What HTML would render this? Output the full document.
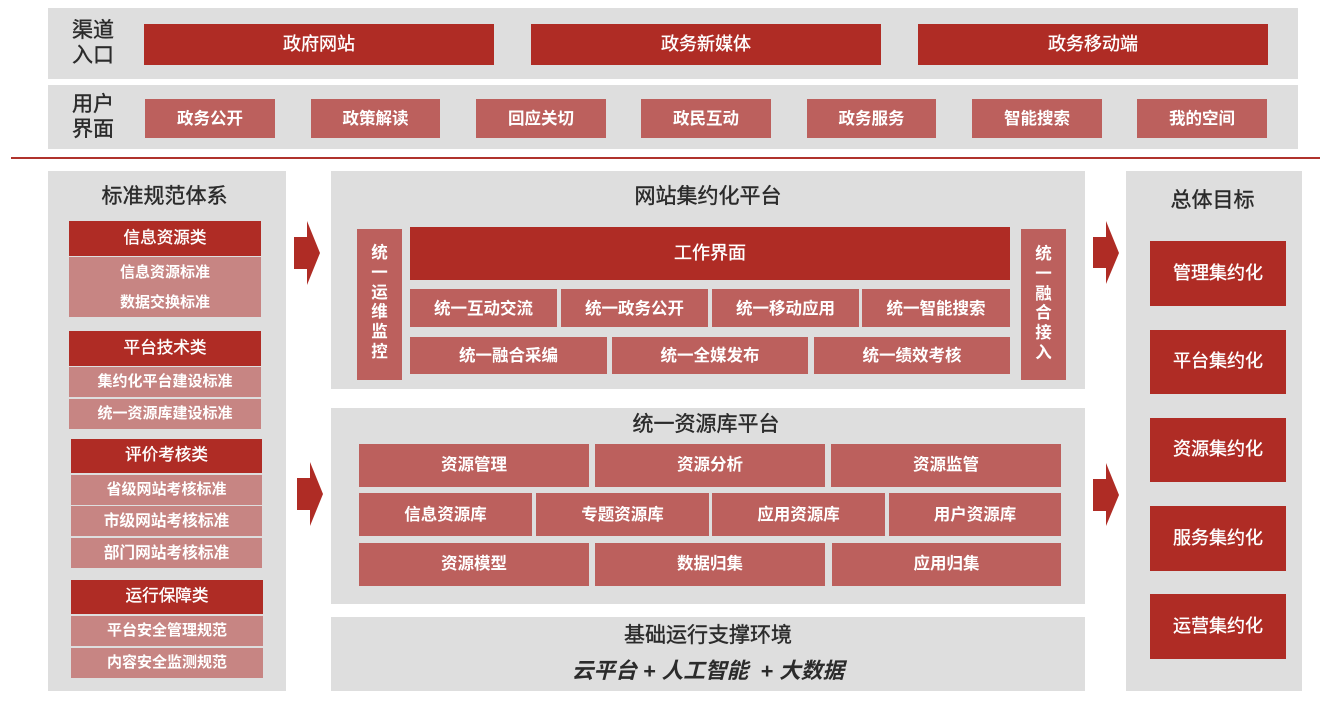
<!DOCTYPE html>
<html lang="zh"><head><meta charset="utf-8"><title>网站集约化平台</title>
<style>
html,body{margin:0;padding:0;background:#fff}
#p{position:relative;width:1332px;height:705px;overflow:hidden;background:#fff;font-family:"Liberation Sans","Noto Sans CJK SC",sans-serif}
#p div{position:absolute;display:flex;align-items:center;justify-content:center;text-align:center;white-space:nowrap;box-sizing:border-box}
.g{background:#dedede}
.r{background:#af2c25;color:#fff;font-size:18px;font-weight:400;padding-bottom:4px;-webkit-text-stroke:.35px #fff}
#p .h{font-size:16.6px;padding-bottom:6px}
.m{background:#bc605d;color:#fff;font-size:16.5px;font-weight:700;padding-bottom:3px}
#p .u{padding-bottom:5px}
.l{background:#c78583;color:#fff;font-size:15px;font-weight:700;padding-bottom:4px}
.b{font-size:15.7px}
.t{color:#2b2b2b;font-weight:400;line-height:25px;-webkit-text-stroke:.4px #2b2b2b}
.v{line-height:19.8px;white-space:normal!important;align-items:flex-start!important}
</style></head><body><div id="p">
<div class="g" style="left:48px;top:8px;width:1250px;height:71px"></div>
<div class="g" style="left:48px;top:85px;width:1250px;height:64px"></div>
<div class="t" style="left:48px;top:17px;width:90px;height:53px;font-size:21px;line-height:24.5px">渠道<br>入口</div>
<div class="t" style="left:48px;top:91px;width:90px;height:52px;font-size:21px">用户<br>界面</div>
<div class="r" style="left:144px;top:24px;width:350px;height:41px">政府网站</div>
<div class="r" style="left:531px;top:24px;width:350px;height:41px">政务新媒体</div>
<div class="r" style="left:918px;top:24px;width:350px;height:41px">政务移动端</div>
<div class="m" style="left:145px;top:99px;width:130px;height:39px">政务公开</div>
<div class="m" style="left:311px;top:99px;width:129px;height:39px">政策解读</div>
<div class="m" style="left:476px;top:99px;width:130px;height:39px">回应关切</div>
<div class="m" style="left:641px;top:99px;width:130px;height:39px">政民互动</div>
<div class="m" style="left:807px;top:99px;width:129px;height:39px">政务服务</div>
<div class="m" style="left:972px;top:99px;width:130px;height:39px">智能搜索</div>
<div class="m" style="left:1137px;top:99px;width:130px;height:39px">我的空间</div>
<div style="left:11px;top:157px;width:1309px;height:2px;background:#b0332c"></div>

<div class="g" style="left:48px;top:171px;width:238px;height:520px"></div>
<div class="t" style="left:48px;top:184px;width:233px;height:25px;font-size:21px">标准规范体系</div>
<div class="r h" style="left:69px;top:221px;width:192px;height:35px">信息资源类</div>
<div class="l" style="left:69px;top:257px;width:192px;height:60px;line-height:30px;padding-bottom:0;padding-top:2px">信息资源标准<br>数据交换标准</div>
<div class="r h" style="left:69px;top:331px;width:192px;height:35px">平台技术类</div>
<div class="l" style="left:69px;top:367px;width:192px;height:30px">集约化平台建设标准</div>
<div class="l" style="left:69px;top:399px;width:192px;height:30px">统一资源库建设标准</div>
<div class="r h" style="left:71px;top:439px;width:191px;height:34px">评价考核类</div>
<div class="l" style="left:71px;top:475px;width:191px;height:30px">省级网站考核标准</div>
<div class="l b" style="left:71px;top:506px;width:191px;height:30px">市级网站考核标准</div>
<div class="l b" style="left:71px;top:538px;width:191px;height:30px">部门网站考核标准</div>
<div class="r h" style="left:71px;top:580px;width:192px;height:34px">运行保障类</div>
<div class="l" style="left:71px;top:616px;width:192px;height:30px">平台安全管理规范</div>
<div class="l" style="left:71px;top:648px;width:192px;height:30px">内容安全监测规范</div>

<svg style="position:absolute;left:0;top:0" width="1332" height="705">
<polygon fill="#af2c25" points="294,237 307,237 307,221 320,253 307,285 307,269 294,269"/>
<polygon fill="#af2c25" points="297,478 310,478 310,462 323,494 310,526 310,510 297,510"/>
<polygon fill="#af2c25" points="1093,237 1106,237 1106,221 1119,253 1106,284 1106,268 1093,268"/>
<polygon fill="#af2c25" points="1093,479 1106,479 1106,463 1119,495 1106,526 1106,511 1093,511"/>
</svg>

<div class="g" style="left:331px;top:171px;width:754px;height:218px"></div>
<div class="t" style="left:331px;top:184px;width:754px;height:25px;font-size:21px">网站集约化平台</div>
<div class="m v" style="left:357px;top:229px;width:45px;height:151px;padding-top:15px;padding-bottom:0">统<br>一<br>运<br>维<br>监<br>控</div>
<div class="r" style="left:410px;top:227px;width:600px;height:53px">工作界面</div>
<div class="m" style="left:410px;top:289px;width:147px;height:38px">统一互动交流</div>
<div class="m" style="left:561px;top:289px;width:147px;height:38px">统一政务公开</div>
<div class="m" style="left:712px;top:289px;width:147px;height:38px">统一移动应用</div>
<div class="m" style="left:862px;top:289px;width:148px;height:38px">统一智能搜索</div>
<div class="m" style="left:410px;top:337px;width:197px;height:37px">统一融合采编</div>
<div class="m" style="left:612px;top:337px;width:196px;height:37px">统一全媒发布</div>
<div class="m" style="left:814px;top:337px;width:196px;height:37px">统一绩效考核</div>
<div class="m v" style="left:1021px;top:229px;width:45px;height:151px;padding-top:16px;padding-bottom:0">统<br>一<br>融<br>合<br>接<br>入</div>

<div class="g" style="left:331px;top:408px;width:754px;height:196px"></div>
<div class="t" style="left:331px;top:412px;width:750px;height:25px;font-size:21px">统一资源库平台</div>
<div class="m u" style="left:359px;top:444px;width:230px;height:43px">资源管理</div>
<div class="m u" style="left:595px;top:444px;width:230px;height:43px">资源分析</div>
<div class="m u" style="left:831px;top:444px;width:230px;height:43px">资源监管</div>
<div class="m" style="left:359px;top:493px;width:173px;height:43px">信息资源库</div>
<div class="m" style="left:536px;top:493px;width:173px;height:43px">专题资源库</div>
<div class="m" style="left:712px;top:493px;width:173px;height:43px">应用资源库</div>
<div class="m" style="left:889px;top:493px;width:172px;height:43px">用户资源库</div>
<div class="m u" style="left:359px;top:543px;width:230px;height:43px">资源模型</div>
<div class="m u" style="left:595px;top:543px;width:230px;height:43px">数据归集</div>
<div class="m u" style="left:832px;top:543px;width:229px;height:43px">应用归集</div>

<div class="g" style="left:331px;top:617px;width:754px;height:74px"></div>
<div class="t" style="left:371px;top:622px;width:674px;height:26px;font-size:21px">基础运行支撑环境</div>
<div class="t" style="left:331px;top:657px;width:754px;height:26px;font-size:21.7px;font-weight:700;font-style:italic;white-space:pre;-webkit-text-stroke:0">云平台 + 人工智能  + 大数据</div>

<div class="g" style="left:1126px;top:171px;width:176px;height:520px"></div>
<div class="t" style="left:1126px;top:188px;width:173px;height:25px;font-size:21px">总体目标</div>
<div class="r" style="left:1150px;top:241px;width:136px;height:65px">管理集约化</div>
<div class="r" style="left:1150px;top:330px;width:136px;height:64px">平台集约化</div>
<div class="r" style="left:1150px;top:418px;width:136px;height:64px">资源集约化</div>
<div class="r" style="left:1150px;top:506px;width:136px;height:65px">服务集约化</div>
<div class="r" style="left:1150px;top:594px;width:136px;height:65px">运营集约化</div>
</div></body></html>
